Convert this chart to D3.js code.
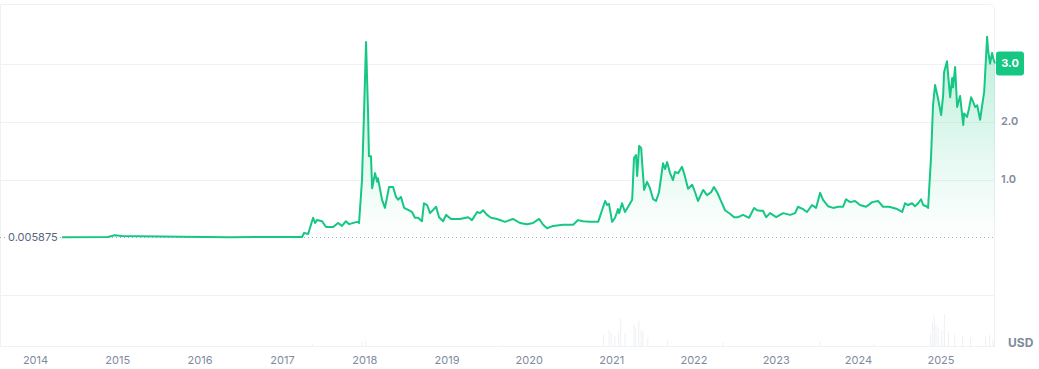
<!DOCTYPE html>
<html>
<head>
<meta charset="utf-8">
<script src="https://cdn.jsdelivr.net/npm/d3@7"></script>
<style>
  html, body { margin: 0; padding: 0; background: #fff; }
  svg { display: block; font-family: Inter, "Noto Sans", sans-serif; }
</style>
</head>
<body>
<svg id="chart" width="1039" height="369"></svg>
<script>
// price history (USD)
var priceDates = [
  "2014-05-01","2014-11-20","2014-12-21","2015-01-21","2015-04-11","2015-10-06","2016-05-14","2016-11-09",
  "2017-03-22","2017-03-31","2017-04-09","2017-04-27","2017-05-19","2017-05-28","2017-06-05","2017-06-28",
  "2017-07-15","2017-08-16","2017-09-07","2017-09-24","2017-10-12","2017-10-26","2017-11-30","2017-12-09",
  "2017-12-22","2017-12-31","2018-01-09","2018-01-18","2018-01-22","2018-01-31","2018-02-05","2018-02-18",
  "2018-02-27","2018-03-03","2018-03-21","2018-04-03","2018-04-21","2018-05-09","2018-05-22","2018-05-31",
  "2018-06-13","2018-06-27","2018-08-01","2018-08-14","2018-08-28","2018-09-14","2018-09-23","2018-10-07",
  "2018-10-20","2018-11-16","2018-11-29","2018-12-17","2018-12-30","2019-01-21","2019-03-02","2019-04-07",
  "2019-04-24","2019-05-17","2019-05-30","2019-06-12","2019-06-30","2019-07-18","2019-08-13","2019-09-18",
  "2019-10-23","2019-11-23","2019-12-25","2020-01-20","2020-02-16","2020-03-05","2020-03-22","2020-04-18",
  "2020-06-01","2020-07-16","2020-08-07","2020-08-29","2020-09-29","2020-11-04","2020-12-05","2020-12-14",
  "2020-12-22","2021-01-05","2021-01-18","2021-01-31","2021-02-05","2021-02-18","2021-03-03","2021-03-17",
  "2021-04-04","2021-04-12","2021-04-21","2021-04-26","2021-05-05","2021-05-14","2021-05-18","2021-05-27",
  "2021-06-09","2021-06-22","2021-07-06","2021-07-19","2021-08-01","2021-08-19","2021-08-28","2021-09-06",
  "2021-09-19","2021-10-02","2021-10-11","2021-10-25","2021-11-11","2021-11-20","2021-12-08","2021-12-26",
  "2022-01-08","2022-01-21","2022-02-13","2022-03-02","2022-03-20","2022-04-02","2022-04-16","2022-05-03",
  "2022-05-21","2022-06-12","2022-06-30","2022-07-18","2022-08-09","2022-09-05","2022-09-27","2022-10-10",
  "2022-10-24","2022-11-06","2022-11-19","2022-12-07","2023-01-03","2023-02-03","2023-03-06","2023-03-28",
  "2023-04-10","2023-05-02","2023-05-20","2023-06-11","2023-06-29","2023-07-17","2023-07-30","2023-08-21",
  "2023-09-13","2023-10-05","2023-10-27","2023-11-09","2023-11-27","2023-12-19","2024-01-10","2024-02-06",
  "2024-03-04","2024-03-30","2024-04-21","2024-05-18","2024-06-23","2024-07-15","2024-07-28","2024-08-10",
  "2024-08-28","2024-09-10","2024-09-24","2024-10-07","2024-10-16","2024-11-03","2024-11-07","2024-11-20",
  "2024-11-29","2024-12-08","2024-12-21","2025-01-04","2025-01-13","2025-01-17","2025-01-30","2025-02-04",
  "2025-02-13","2025-02-22","2025-02-26","2025-03-07","2025-03-16","2025-03-29","2025-04-12","2025-04-16",
  "2025-04-29","2025-05-08","2025-05-17","2025-05-26","2025-06-04","2025-06-13","2025-06-26","2025-07-05",
  "2025-07-14","2025-07-27","2025-07-31","2025-08-09","2025-08-18","2025-08-23","2025-08-31"
];
var priceValues = [
  0.006,0.010,0.040,0.025,0.020,0.012,0.006,0.007,
  0.008,0.008,0.080,0.060,0.34,0.25,0.30,0.28,
  0.18,0.18,0.25,0.20,0.28,0.23,0.27,0.25,
  0.99,2.14,3.37,2.14,1.40,1.40,0.85,1.11,
  0.96,1.02,0.65,0.51,0.87,0.87,0.70,0.65,
  0.70,0.51,0.44,0.34,0.34,0.28,0.59,0.56,
  0.42,0.53,0.35,0.28,0.39,0.32,0.32,0.35,
  0.30,0.44,0.42,0.47,0.39,0.34,0.32,0.27,
  0.32,0.25,0.23,0.25,0.32,0.22,0.16,0.20,
  0.22,0.22,0.30,0.28,0.27,0.27,0.63,0.56,
  0.58,0.27,0.34,0.49,0.42,0.59,0.44,0.53,
  0.65,1.37,1.42,1.06,1.58,1.54,1.30,0.82,
  0.96,0.85,0.66,0.63,0.78,1.28,1.18,1.30,
  1.11,0.99,1.13,1.11,1.22,1.11,0.84,0.91,
  0.78,0.63,0.82,0.73,0.78,0.87,0.78,0.63,
  0.47,0.41,0.35,0.35,0.39,0.34,0.51,0.47,
  0.46,0.46,0.35,0.42,0.35,0.42,0.39,0.42,
  0.53,0.49,0.44,0.56,0.51,0.77,0.65,0.54,
  0.51,0.53,0.53,0.66,0.61,0.63,0.56,0.53,
  0.61,0.63,0.53,0.53,0.49,0.44,0.59,0.56,
  0.59,0.54,0.59,0.66,0.56,0.53,0.51,1.37,
  2.28,2.63,2.40,2.11,2.46,2.85,3.04,2.80,
  2.42,2.75,2.59,2.94,2.25,2.44,1.94,2.14,
  2.08,2.23,2.42,2.34,2.25,2.28,2.03,2.28,
  2.51,3.46,3.24,3.00,3.18,3.09,3.00
];

// traded volume (relative, 0..1), faint bars at the bottom
var volumeDates = [
  "2017-05-15","2017-12-20","2018-01-05","2019-09-01","2020-11-25","2020-12-20","2020-12-30",
  "2021-01-15","2021-02-01","2021-02-10","2021-03-01","2021-04-10","2021-04-18","2021-05-01",
  "2021-05-12","2021-05-20","2021-06-10","2021-09-05","2022-05-10","2023-07-14","2024-03-10",
  "2024-11-15","2024-11-25","2024-12-02","2024-12-10","2024-12-20","2025-01-05","2025-01-16",
  "2025-02-03","2025-03-03","2025-04-07","2025-05-12","2025-07-18","2025-08-05","2025-08-20"
];
var volumeValues = [
  0.04,0.10,0.12,0.03,0.25,0.35,0.30,
  0.22,0.30,0.60,0.28,0.45,0.38,0.55,
  0.35,0.30,0.18,0.12,0.08,0.10,0.06,
  0.25,0.50,0.65,0.45,0.40,0.35,0.70,
  0.30,0.25,0.22,0.18,0.20,0.25,0.15
];

var yearTicks = [2014,2015,2016,2017,2018,2019,2020,2021,2022,2023,2024,2025];
var priceTicks = [1.0, 2.0];
var lastPrice = 3.0;
var openPrice = 0.005875;

var parseDate = d3.timeParse("%Y-%m-%d");
var prices = priceDates.map(function (d, i) { return { date: parseDate(d), value: priceValues[i] }; });
var volumes = volumeDates.map(function (d, i) { return { date: parseDate(d), value: volumeValues[i] }; });

var GREEN = "#16c784";
var GRID = "#eff2f5";
var TEXT = "#808a9d";

var plotRight = 995, plotTop = 4, plotBottom = 346;

var svg = d3.select("#chart");

var x = d3.scaleTime()
    .domain([new Date(2014, 0, 1), parseDate("2025-08-31")])
    .range([35, plotRight]);

var y = d3.scaleLinear()
    .domain([0, 3])
    .range([237.5, 63.5]);

var yVol = d3.scaleLinear()
    .domain([0, 1])
    .range([plotBottom, 300]);

// gradient under the line
var defs = svg.append("defs");
var grad = defs.append("linearGradient")
    .attr("id", "areaFill")
    .attr("gradientUnits", "userSpaceOnUse")
    .attr("x1", 0).attr("x2", 0)
    .attr("y1", y(3.4)).attr("y2", y(0));
grad.append("stop").attr("offset", "0%").attr("stop-color", GREEN).attr("stop-opacity", 0.28);
grad.append("stop").attr("offset", "100%").attr("stop-color", GREEN).attr("stop-opacity", 0.0);

// frame and grid
svg.append("path")
    .attr("d", "M0.5," + plotBottom + " V" + (plotTop + 0.5) + " H" + (plotRight - 6) +
          " Q" + (plotRight - 0.5) + "," + (plotTop + 0.5) + " " + (plotRight - 0.5) + "," + (plotTop + 6) +
          " V" + plotBottom)
    .attr("fill", "none")
    .attr("stroke", GRID)
    .attr("stroke-width", 1);

svg.append("g")
    .selectAll("line")
    .data([3.0].concat(priceTicks))
    .join("line")
    .attr("x1", 0).attr("x2", plotRight)
    .attr("y1", function (d) { return Math.round(y(d)) + 0.5; })
    .attr("y2", function (d) { return Math.round(y(d)) + 0.5; })
    .attr("stroke", GRID);

svg.append("line")
    .attr("x1", 0).attr("x2", plotRight)
    .attr("y1", 295.5).attr("y2", 295.5)
    .attr("stroke", GRID);

svg.append("line")
    .attr("x1", 0).attr("x2", plotRight)
    .attr("y1", plotBottom + 0.5).attr("y2", plotBottom + 0.5)
    .attr("stroke", GRID);

// volume bars
svg.append("g")
    .selectAll("rect")
    .data(volumes)
    .join("rect")
    .attr("x", function (d) { return x(d.date); })
    .attr("width", 1)
    .attr("y", function (d) { return yVol(d.value); })
    .attr("height", function (d) { return plotBottom - yVol(d.value); })
    .attr("fill", "#eef0f4");

// dotted opening-price line
svg.append("line")
    .attr("x1", 0).attr("x2", plotRight)
    .attr("y1", Math.round(y(openPrice)) + 0.5)
    .attr("y2", Math.round(y(openPrice)) + 0.5)
    .attr("stroke", "#a6b0c3")
    .attr("stroke-width", 1)
    .attr("stroke-dasharray", "1,3");

// area + line
var area = d3.area()
    .x(function (d) { return x(d.date); })
    .y0(y(0))
    .y1(function (d) { return y(d.value); });

var line = d3.line()
    .x(function (d) { return x(d.date); })
    .y(function (d) { return y(d.value); });

svg.append("path")
    .datum(prices)
    .attr("d", area)
    .attr("fill", "url(#areaFill)");

svg.append("path")
    .datum(prices)
    .attr("d", line)
    .attr("fill", "none")
    .attr("stroke", GREEN)
    .attr("stroke-width", 2)
    .attr("stroke-linejoin", "round");

// opening price label on the left
var openY = y(openPrice);
svg.append("rect")
    .attr("x", 6).attr("y", openY - 8)
    .attr("width", 54).attr("height", 16)
    .attr("fill", "#fff");
svg.append("text")
    .attr("x", 8).attr("y", openY)
    .attr("dy", "0.35em")
    .attr("font-size", 11)
    .attr("fill", "#58667e")
    .text(String(openPrice));

// right axis labels
svg.append("g")
    .selectAll("text")
    .data(priceTicks)
    .join("text")
    .attr("x", 1001)
    .attr("y", function (d) { return y(d); })
    .attr("dy", "0.35em")
    .attr("font-size", 11)
    .attr("font-weight", 600)
    .attr("fill", TEXT)
    .text(function (d) { return d.toFixed(1); });

// current price badge
svg.append("rect")
    .attr("x", 996).attr("y", y(lastPrice) - 12)
    .attr("width", 28).attr("height", 24)
    .attr("rx", 3)
    .attr("fill", GREEN);
svg.append("text")
    .attr("x", 1010).attr("y", y(lastPrice))
    .attr("dy", "0.35em")
    .attr("text-anchor", "middle")
    .attr("font-size", 11)
    .attr("font-weight", 700)
    .attr("fill", "#fff")
    .text(lastPrice.toFixed(1));

// bottom axis
var xAxis = d3.axisBottom(x)
    .tickValues(yearTicks.map(function (yr) { return new Date(yr, 0, 1); }))
    .tickFormat(d3.timeFormat("%Y"))
    .tickSize(0)
    .tickPadding(10);

var gx = svg.append("g")
    .attr("transform", "translate(0," + plotBottom + ")")
    .call(xAxis);
gx.select(".domain").remove();
gx.selectAll("text")
    .attr("font-family", "Inter, 'Noto Sans', sans-serif")
    .attr("font-size", 11)
    .attr("fill", TEXT);

svg.append("text")
    .attr("x", 1008).attr("y", 343)
    .attr("dy", "0.35em")
    .attr("font-size", 12)
    .attr("font-weight", 700)
    .attr("fill", TEXT)
    .text("USD");
</script>
</body>
</html>
